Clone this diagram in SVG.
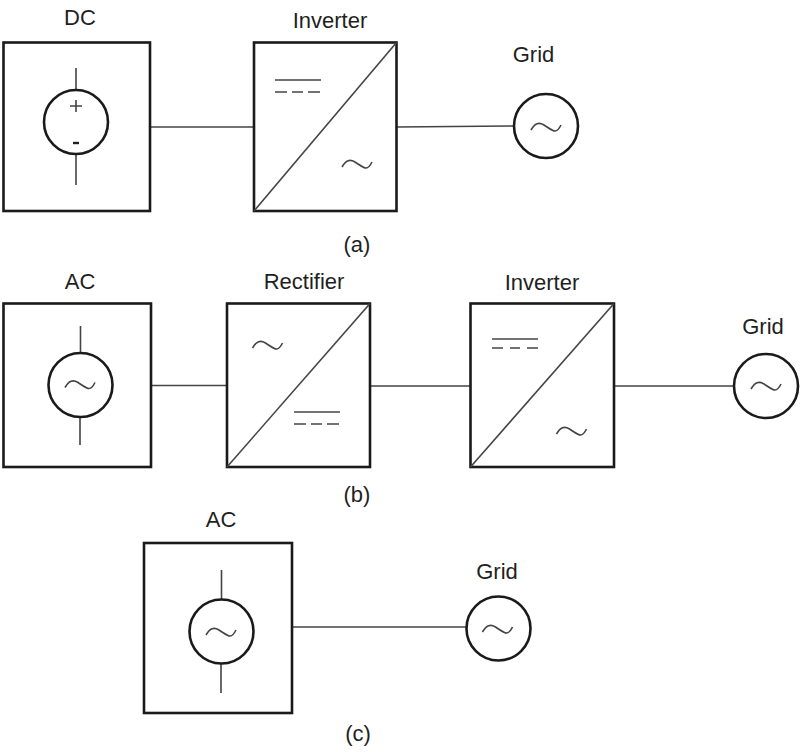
<svg xmlns="http://www.w3.org/2000/svg" width="800" height="752" viewBox="0 0 800 752">
<style>
.box{fill:#fff;stroke:#1a1a1a;stroke-width:2.6}
.circ{fill:#fff;stroke:#1a1a1a;stroke-width:2.6}
.ln{fill:none;stroke:#444;stroke-width:1.6}
.t{font-family:"Liberation Sans",Arial,sans-serif;font-size:22px;fill:#1f1f1f;text-anchor:middle}
</style>
<defs>
<path id="tilde" d="M-15 3C-11 -4 -7 -5 -2 -2C3 1 6 4 9 4C11 4 13 2 15 -2" fill="none" stroke="#444" stroke-width="1.6"/>
<g id="dcsym"><path d="M-23 0H23" class="ln"/><path d="M-23 12H-11M-6 12H5M10 12H22" class="ln"/></g>
</defs>
<rect width="800" height="752" fill="#fff"/>
<g id="connectors">
<path class="ln" d="M150 127H254M396 127L515 126M151 385.500H227M370 386H471M614 386H734M292 627H467"/>
</g>
<g id="dc-source"><rect class="box" x="3.500" y="42.500" width="146.500" height="168.500"/><path class="ln" d="M76 68V90M76 154V185"/><circle class="circ" cx="76" cy="122" r="32"/><path class="ln" d="M70 106H82M76 100V112"/><path d="M73 143H79" fill="none" stroke="#222" stroke-width="2.400"/></g>
<g id="inverter-a"><rect class="box" x="254" y="42.500" width="142.500" height="168.500"/><path class="ln" d="M254 211L396.500 42.500"/><use href="#dcsym" x="298" y="80"/><use href="#tilde" x="357" y="164"/></g>
<g id="grid-a"><circle class="circ" cx="546" cy="126" r="32"/><use href="#tilde" x="546" y="127"/></g>
<g id="ac-source-b"><rect class="box" x="3.500" y="303.500" width="147.500" height="163.500"/><path class="ln" d="M80.500 326V354M80 416V445"/><circle class="circ" cx="80.500" cy="385" r="32"/><use href="#tilde" x="80" y="384.500"/></g>
<g id="rectifier"><rect class="box" x="227" y="303.500" width="143" height="163.500"/><path class="ln" d="M227 467L370 303.500"/><use href="#tilde" x="267.500" y="345"/><use href="#dcsym" x="317" y="412"/></g>
<g id="inverter-b"><rect class="box" x="470.500" y="303.500" width="143.500" height="163.500"/><path class="ln" d="M470.500 467L614 303.500"/><g transform="translate(515 339)"><path d="M-23 0H23" class="ln"/><path d="M-23 9H-12M-5 9H5M12 9H23" class="ln"/></g><use href="#tilde" x="571.500" y="431"/></g>
<g id="grid-b"><circle class="circ" cx="766" cy="386" r="32"/><use href="#tilde" x="766" y="386"/></g>
<g id="ac-source-c"><rect class="box" x="144" y="543" width="148" height="170"/><path class="ln" d="M221.500 570V599M221 664V693"/><circle class="circ" cx="221.500" cy="631.500" r="32"/><use href="#tilde" x="221" y="632"/></g>
<g id="grid-c"><circle class="circ" cx="498.500" cy="628.500" r="32"/><use href="#tilde" x="497.500" y="629"/></g>
<g id="labels">
<text class="t" x="80" y="25">DC</text>
<text class="t" x="330" y="28">Inverter</text>
<text class="t" x="533.500" y="62">Grid</text>
<text class="t" x="357" y="252">(a)</text>
<text class="t" x="80" y="289">AC</text>
<text class="t" x="304" y="289">Rectifier</text>
<text class="t" x="542" y="289.500">Inverter</text>
<text class="t" x="763" y="334">Grid</text>
<text class="t" x="357" y="502">(b)</text>
<text class="t" x="221" y="527">AC</text>
<text class="t" x="497" y="579">Grid</text>
<text class="t" x="358" y="741">(c)</text>
</g>
</svg>
